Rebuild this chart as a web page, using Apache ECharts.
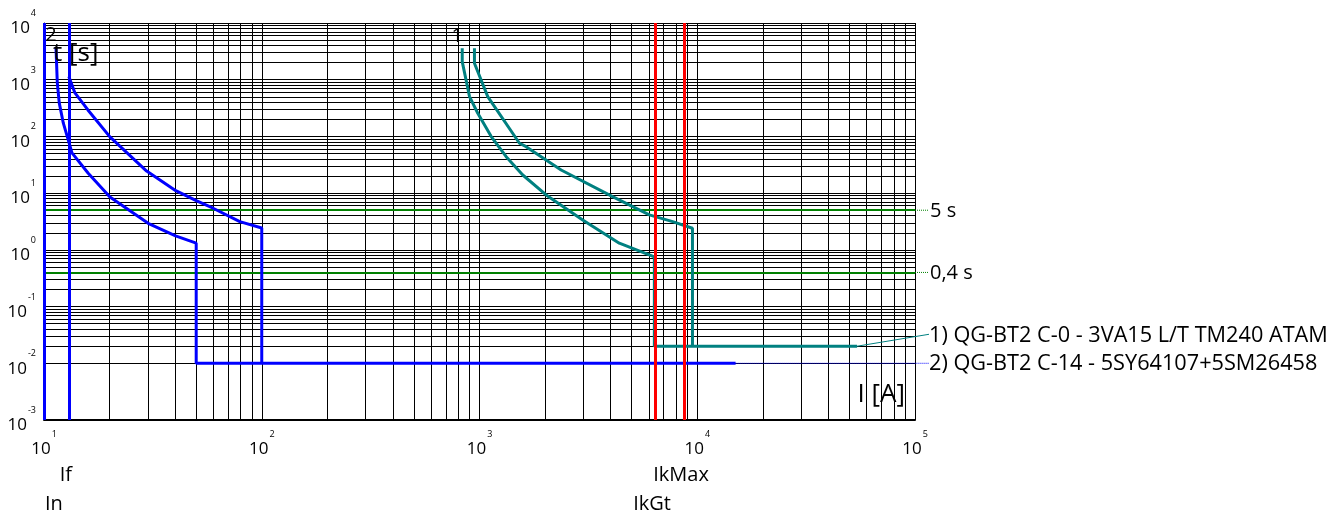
<!DOCTYPE html>
<html>
<head>
<meta charset="utf-8">
<style>
  html, body { margin: 0; padding: 0; background: #fff; }
  #chart { width: 1338px; height: 515px; }
</style>
<script src="https://cdn.jsdelivr.net/npm/echarts@6/dist/echarts.min.js"></script>
</head>
<body>
<div id="chart"></div>
<script>
// 数据：电流 I [A] / 时间 t [s]
const xMin = 10;
const xMax = 100000;
const yMin = 0.001;
const yMax = 10000;

// 1) QG-BT2 C-0 - 3VA15（下限 / 上限）
const curve1Min = [
  [833, 3594], [833, 2084], [900, 504], [982, 256], [1132, 99.3], [1326, 44],
  [1580, 20.9], [2023, 9.29], [2978, 3.37], [4385, 1.31], [6353, 0.75],
  [6353, 0.02], [54200, 0.02]
];
const curve1Max = [
  [948, 3594], [948, 1954], [1091, 504], [1526, 75.9], [1637, 66], [2371, 25.6],
  [4084, 8.67], [6026, 4.13], [7709, 3.14], [9506, 2.4], [9506, 0.02]
];

// 2) QG-BT2 C-14 - 5SY64107（下限 / 上限）
const curve2Min = [
  [11.35, 3790], [11.51, 879], [11.75, 390], [12.26, 173], [12.92, 86.7],
  [13.44, 51.2], [15.96, 22.4], [20.08, 8.57], [30.08, 2.94], [40.2, 1.76],
  [50, 1.31], [50, 0.01], [15000, 0.01]
];
const curve2Max = [
  [13, 1135], [13.87, 585], [15.91, 293], [20.08, 98], [29.6, 24.5],
  [40.3, 11.07], [50, 7.38], [59.8, 5.42], [79.3, 3.14], [100, 2.43], [100, 0.01]
];

const curveNames = ['1', '2'];
const legendNames = [
  '1) QG-BT2 C-0 - 3VA15 L/T TM240 ATAM',
  '2) QG-BT2 C-14 - 5SY64107+5SM26458'
];

// 竖线标记
const markerNames = ['In', 'If', 'IkGt', 'IkMax'];
const markerValues = [10, 13, 6400, 8700];

// 时间限值
const timeValues = [5, 0.4];
const timeLabels = ['5 s', '0,4 s'];

// 网格
const xDecades = [10, 100, 1000, 10000];
const yDecades = [0.001, 0.01, 0.1, 1, 10, 100, 1000];
const minorSteps = [2, 3, 4, 5, 6, 7, 8, 9];

// 样式
const FONT = '"Open Sans", "Noto Sans", sans-serif';
const TEAL = '#008080';
const BLUE = '#0000ff';
const RED = '#ff0000';
const GREEN = '#008000';
const markerColors = { In: BLUE, If: BLUE, IkGt: RED, IkMax: RED };
const markerRow = { In: 1, If: 0, IkGt: 1, IkMax: 0 };

const chart = echarts.init(document.getElementById('chart'));

// 10 的幂标签：指数上标
const powLabel = (v) => '{b|10}{e|' + Math.round(Math.log10(v)) + '}';
const powRich = {
  b: { fontSize: 17, lineHeight: 17, padding: [11, 0, 0, 0], fontFamily: FONT, color: '#000' },
  e: { fontSize: 9, lineHeight: 9, padding: [0, 0, 19, 1], fontFamily: FONT, color: '#000' }
};

const gridLines = [
  ...xDecades.flatMap((d) => minorSteps.map((s) => ({ xAxis: d * s }))),
  ...yDecades.flatMap((d) => minorSteps.map((s) => ({ yAxis: d * s })))
];

const curveSeries = (name, data, color) => ({
  name: name,
  type: 'line',
  data: data,
  showSymbol: false,
  z: 3,
  silent: true,
  lineStyle: { color: color, width: 3 }
});

const option = {
  animation: false,
  grid: { left: 44, right: 423, top: 23, bottom: 95, outerBoundsMode: 'none' },
  xAxis: {
    type: 'log',
    logBase: 10,
    min: xMin,
    max: xMax,
    splitNumber: 4,
    axisLine: { show: true, lineStyle: { color: '#000', width: 2 } },
    axisTick: { show: false },
    axisLabel: {
      formatter: powLabel, rich: powRich, margin: 15, fontSize: 17, fontFamily: FONT,
      color: '#000', showMinLabel: true, showMaxLabel: true
    },
    splitLine: { show: true, lineStyle: { color: '#000', width: 1 } }
  },
  yAxis: {
    type: 'log',
    logBase: 10,
    min: yMin,
    max: yMax,
    splitNumber: 7,
    axisLine: { show: true, lineStyle: { color: '#000', width: 1 } },
    axisTick: { show: false },
    axisLabel: {
      formatter: powLabel, rich: powRich, margin: 8, align: 'right', fontSize: 17, fontFamily: FONT,
      color: '#000', showMinLabel: true, showMaxLabel: true
    },
    splitLine: { show: true, lineStyle: { color: '#000', width: 1 } }
  },
  series: [
    {
      name: 'grid',
      type: 'line',
      data: [],
      silent: true,
      markLine: {
        z: 1,
        silent: true,
        symbol: ['none', 'none'],
        label: { show: false },
        lineStyle: { color: '#000', width: 1, type: 'solid' },
        emphasis: { disabled: true },
        data: gridLines
      }
    },
    {
      name: 'time',
      type: 'line',
      data: [],
      silent: true,
      markLine: {
        z: 2,
        silent: true,
        symbol: ['none', 'none'],
        label: { show: false },
        lineStyle: { color: GREEN, width: 2, type: 'solid' },
        emphasis: { disabled: true },
        data: timeValues.map((v) => ({ yAxis: v }))
      }
    },
    curveSeries('c1min', curve1Min, TEAL),
    curveSeries('c1max', curve1Max, TEAL),
    curveSeries('c2min', curve2Min, BLUE),
    curveSeries('c2max', curve2Max, BLUE),
    {
      name: 'markers',
      type: 'line',
      data: [],
      silent: true,
      clip: false,
      markLine: {
        z: 4,
        silent: true,
        symbol: ['none', 'none'],
        label: { show: false },
        emphasis: { disabled: true },
        data: markerNames.map((n, i) => ({
          xAxis: markerValues[i],
          lineStyle: { color: markerColors[n], width: 3, type: 'solid' }
        }))
      }
    }
  ]
};

chart.setOption(option);

// 叠加文字与引线
function drawOverlay() {
  const px = (x, y) => chart.convertToPixel({ gridIndex: 0 }, [x, y]);
  const [left, top] = px(xMin, yMax);
  const [right, bottom] = px(xMax, yMin);
  const textX = right + 14;
  const g = [];
  const text = (x, y, str, size, align) => ({
    type: 'text',
    x: x,
    y: y,
    z: 10,
    silent: true,
    style: {
      text: str,
      fill: '#000',
      font: size + 'px ' + FONT,
      align: align || 'left',
      verticalAlign: 'middle',
      textAlign: align || 'left',
      textVerticalAlign: 'middle'
    }
  });
  const line = (x1, y1, x2, y2, color, dash) => ({
    type: 'line',
    z: 10,
    silent: true,
    shape: { x1: x1, y1: y1, x2: x2, y2: y2 },
    style: { stroke: color, lineWidth: 1, lineDash: dash || null }
  });

  // 轴名
  g.push(text(left + 9, top + 31, 't [s]', 26, 'left'));
  g.push(text(right - 10, bottom - 25, 'I [A]', 26, 'right'));

  // 曲线编号
  [curve1Min, curve2Min].forEach((c, i) => {
    const p = px(c[0][0], c[0][1]);
    g.push(text(p[0] - 5, p[1] - 12, curveNames[i], 20, 'center'));
  });

  // 竖线标签
  markerNames.forEach((n, i) => {
    const p = px(markerValues[i], yMin);
    let x = p[0] - 3;
    let align = 'center';
    if (x - 10 < left) {
      x = left + 1;
      align = 'left';
    }
    g.push(text(x, bottom + 55 + markerRow[n] * 29, n, 20, align));
  });

  // 时间限值
  timeValues.forEach((v, i) => {
    const y = px(xMax, v)[1];
    g.push(line(right, y, textX, y, GREEN, [1, 1]));
    g.push(text(textX + 1, y + 1, timeLabels[i], 20, 'left'));
  });

  // 图例
  const ends = [curve1Min, curve2Min].map((c) => px(c[c.length - 1][0], c[c.length - 1][1]));
  const rows = [0, 0];
  rows[1] = ends[1][1];
  rows[0] = Math.min(ends[0][1], rows[1] - 28);
  g.push(line(ends[0][0], ends[0][1], textX, rows[0] - 1, TEAL));
  g.push(line(ends[1][0], ends[1][1], textX, rows[1], BLUE, [1, 1]));
  legendNames.forEach((n, i) => {
    g.push(text(textX, rows[i] + 1, n, 21.7, 'left'));
  });

  chart.setOption({ graphic: { elements: g } });
}

drawOverlay();
</script>
</body>
</html>
